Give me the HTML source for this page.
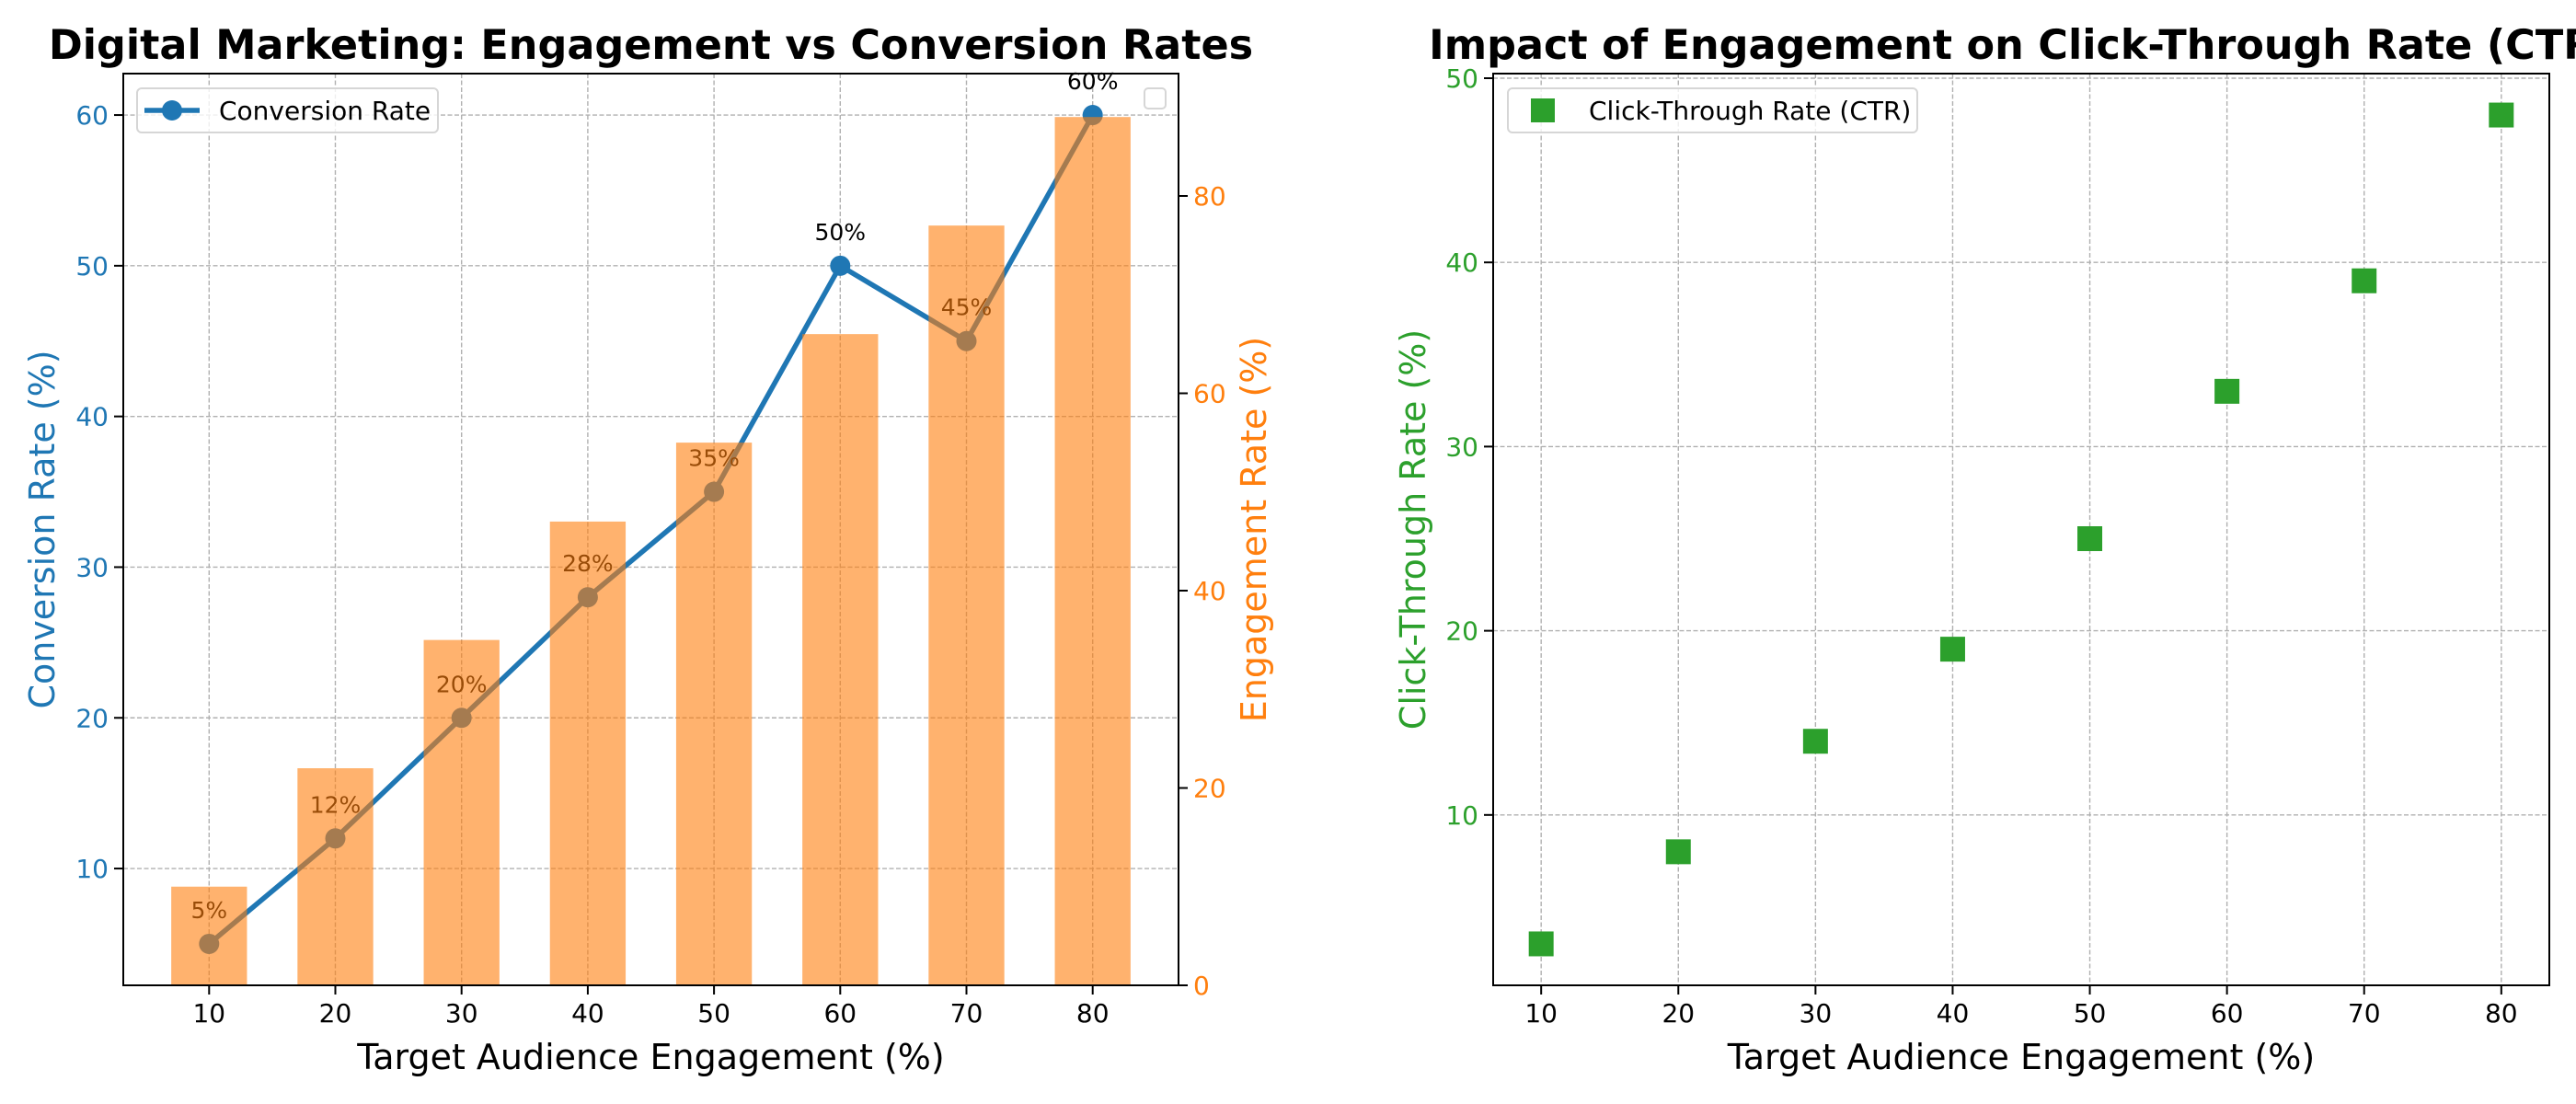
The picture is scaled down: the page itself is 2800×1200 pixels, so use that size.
<!DOCTYPE html>
<html><head><meta charset="utf-8"><style>
html,body{margin:0;padding:0;background:#fff;}
svg{display:block;font-family:"DejaVu Sans","Liberation Sans",sans-serif;}
</style></head><body>
<svg id="chart" width="2800" height="1200" viewBox="0 0 2800 1200" xmlns="http://www.w3.org/2000/svg">
<g id="left"></g>
<g id="right"></g>
</svg>
<script>
const categories = [10, 20, 30, 40, 50, 60, 70, 80];
const conversionRate = [5, 12, 20, 28, 35, 50, 45, 60];
const engagementRate = [10, 22, 35, 47, 55, 66, 77, 88];
const ctrValues = [3, 8, 14, 19, 25, 33, 39, 48];
const leftYTicks = [10, 20, 30, 40, 50, 60];
const rightYTicks = [0, 20, 40, 60, 80];
const ctrYTicks = [10, 20, 30, 40, 50];

const NS = 'http://www.w3.org/2000/svg';
function mk(parent, tag, attrs, text) {
  const e = document.createElementNS(NS, tag);
  for (const k in attrs) e.setAttribute(k, attrs[k]);
  if (text !== undefined) e.textContent = text;
  parent.appendChild(e);
  return e;
}
const lin = (d0, d1, r0, r1) => v => r0 + (v - d0) / (d1 - d0) * (r1 - r0);

// ---------- Left panel ----------
const L = document.getElementById('left');
const AX = {l:134, r:1281, t:80, b:1071};
const x1 = lin(3.2, 86.8, AX.l, AX.r);
const y1 = lin(2.25, 62.75, AX.b, AX.t);
const y2 = lin(0, 92.4, AX.b, AX.t);

let g = mk(L, 'g', {});


categories.forEach(c => {
  mk(g, 'line', {x1:x1(c), x2:x1(c), y1:AX.t, y2:AX.b, stroke:'#b0b0b0', 'stroke-width':1.4, 'stroke-dasharray':'5,2.5'});
});
leftYTicks.forEach(t => {
  mk(g, 'line', {x1:AX.l, x2:AX.r, y1:y1(t), y2:y1(t), stroke:'#b0b0b0', 'stroke-width':1.4, 'stroke-dasharray':'5,2.5'});
});

let pts = categories.map((c, i) => x1(c) + ',' + y1(conversionRate[i])).join(' ');
let pl = mk(L, 'polyline', {points:pts, fill:'none', stroke:'#1f77b4', 'stroke-width':5.5, 'stroke-linejoin':'round'});


categories.forEach((c, i) => {
  const m = mk(L, 'circle', {cx:x1(c), cy:y1(conversionRate[i]), r:11, fill:'#1f77b4'});
  
  
  const t = mk(L, 'text', {x:x1(c), y:y1(conversionRate[i]) - 28, 'font-size':25, 'text-anchor':'middle', fill:'#000'}, conversionRate[i] + '%');
  
  
});
categories.forEach((c, i) => {
  const w = x1(c + 3) - x1(c - 3);
  const b = mk(L, 'rect', {x:x1(c - 3), y:y2(engagementRate[i]), width:w, height:AX.b - y2(engagementRate[i]), fill:'#ff7f0e', 'fill-opacity':0.6});
  
  
});
let fr = mk(L, 'rect', {x:AX.l, y:AX.t, width:AX.r - AX.l, height:AX.b - AX.t, fill:'none', stroke:'#000', 'stroke-width':2});


categories.forEach(c => {
  mk(L, 'line', {x1:x1(c), x2:x1(c), y1:AX.b, y2:AX.b + 10, stroke:'#000', 'stroke-width':2});
  const t = mk(L, 'text', {x:x1(c), y:AX.b + 40, 'font-size':28, 'text-anchor':'middle', fill:'#000'}, c);
  
  
});
leftYTicks.forEach(v => {
  mk(L, 'line', {x1:AX.l - 10, x2:AX.l, y1:y1(v), y2:y1(v), stroke:'#000', 'stroke-width':2});
  const t = mk(L, 'text', {x:AX.l - 16, y:y1(v) + 10, 'font-size':28, 'text-anchor':'end', fill:'#1f77b4'}, v);
  
  
});
rightYTicks.forEach(v => {
  mk(L, 'line', {x1:AX.r, x2:AX.r + 10, y1:y2(v), y2:y2(v), stroke:'#000', 'stroke-width':2});
  const t = mk(L, 'text', {x:AX.r + 16, y:y2(v) + 10, 'font-size':28, 'text-anchor':'start', fill:'#ff7f0e'}, v);
  
  
});
let tt = mk(L, 'text', {x:(AX.l + AX.r) / 2, y:64, 'font-size':44.5, 'font-weight':'bold', 'text-anchor':'middle'}, 'Digital Marketing: Engagement vs Conversion Rates');


let xl = mk(L, 'text', {x:(AX.l + AX.r) / 2, y:1162, 'font-size':38, 'text-anchor':'middle'}, 'Target Audience Engagement (%)');


let yl = mk(L, 'text', {x:0, y:0, 'font-size':38, 'text-anchor':'middle', fill:'#1f77b4', transform:'translate(59,' + (AX.t + AX.b) / 2 + ') rotate(-90)'}, 'Conversion Rate (%)');


let yr = mk(L, 'text', {x:0, y:0, 'font-size':38, 'text-anchor':'middle', fill:'#ff7f0e', transform:'translate(1376,' + (AX.t + AX.b) / 2 + ') rotate(-90)'}, 'Engagement Rate (%)');


let lg = mk(L, 'g', {});


mk(lg, 'rect', {x:149, y:96, width:327, height:48, rx:5, fill:'#fff', 'fill-opacity':0.8, stroke:'#d6d6d6', 'stroke-width':2});
mk(lg, 'line', {x1:157, x2:217, y1:120, y2:120, stroke:'#1f77b4', 'stroke-width':5.5});
mk(lg, 'circle', {cx:187, cy:120, r:11, fill:'#1f77b4'});
mk(lg, 'text', {x:238, y:130, 'font-size':28}, 'Conversion Rate');
let el = mk(L, 'rect', {x:1244, y:96, width:23, height:22, rx:4, fill:'#fff', stroke:'#d6d6d6', 'stroke-width':2});



// ---------- Right panel ----------
const R = document.getElementById('right');
const BX = {l:1623, r:2771, t:80, b:1071};
const x3 = lin(6.5, 83.5, BX.l, BX.r);
const y3 = lin(0.75, 50.25, BX.b, BX.t);
let g2 = mk(R, 'g', {});


categories.forEach(c => {
  mk(g2, 'line', {x1:x3(c), x2:x3(c), y1:BX.t, y2:BX.b, stroke:'#b0b0b0', 'stroke-width':1.4, 'stroke-dasharray':'5,2.5'});
});
ctrYTicks.forEach(t => {
  mk(g2, 'line', {x1:BX.l, x2:BX.r, y1:y3(t), y2:y3(t), stroke:'#b0b0b0', 'stroke-width':1.4, 'stroke-dasharray':'5,2.5'});
});
categories.forEach((c, i) => {
  const s = mk(R, 'rect', {x:x3(c) - 13.5, y:y3(ctrValues[i]) - 13.5, width:27, height:27, fill:'#2ca02c'});
  
  
});
let fr2 = mk(R, 'rect', {x:BX.l, y:BX.t, width:BX.r - BX.l, height:BX.b - BX.t, fill:'none', stroke:'#000', 'stroke-width':2});


categories.forEach(c => {
  mk(R, 'line', {x1:x3(c), x2:x3(c), y1:BX.b, y2:BX.b + 10, stroke:'#000', 'stroke-width':2});
  const t = mk(R, 'text', {x:x3(c), y:BX.b + 40, 'font-size':28, 'text-anchor':'middle'}, c);
  
  
});
ctrYTicks.forEach(v => {
  mk(R, 'line', {x1:BX.l - 10, x2:BX.l, y1:y3(v), y2:y3(v), stroke:'#000', 'stroke-width':2});
  const t = mk(R, 'text', {x:BX.l - 16, y:y3(v) + 10, 'font-size':28, 'text-anchor':'end', fill:'#2ca02c'}, v);
  
  
});
let t2 = mk(R, 'text', {x:(BX.l + BX.r) / 2, y:64, 'font-size':44.5, 'font-weight':'bold', 'text-anchor':'middle'}, 'Impact of Engagement on Click-Through Rate (CTR)');


let xl2 = mk(R, 'text', {x:(BX.l + BX.r) / 2, y:1162, 'font-size':38, 'text-anchor':'middle'}, 'Target Audience Engagement (%)');


let yl2 = mk(R, 'text', {x:0, y:0, 'font-size':38, 'text-anchor':'middle', fill:'#2ca02c', transform:'translate(1549,' + (BX.t + BX.b) / 2 + ') rotate(-90)'}, 'Click-Through Rate (%)');


let lg2 = mk(R, 'g', {});


mk(lg2, 'rect', {x:1639, y:96, width:445, height:48, rx:5, fill:'#fff', 'fill-opacity':0.8, stroke:'#d6d6d6', 'stroke-width':2});
mk(lg2, 'rect', {x:1664, y:107, width:26, height:26, fill:'#2ca02c'});
mk(lg2, 'text', {x:1727, y:130, 'font-size':28}, 'Click-Through Rate (CTR)');
</script>
</body></html>
